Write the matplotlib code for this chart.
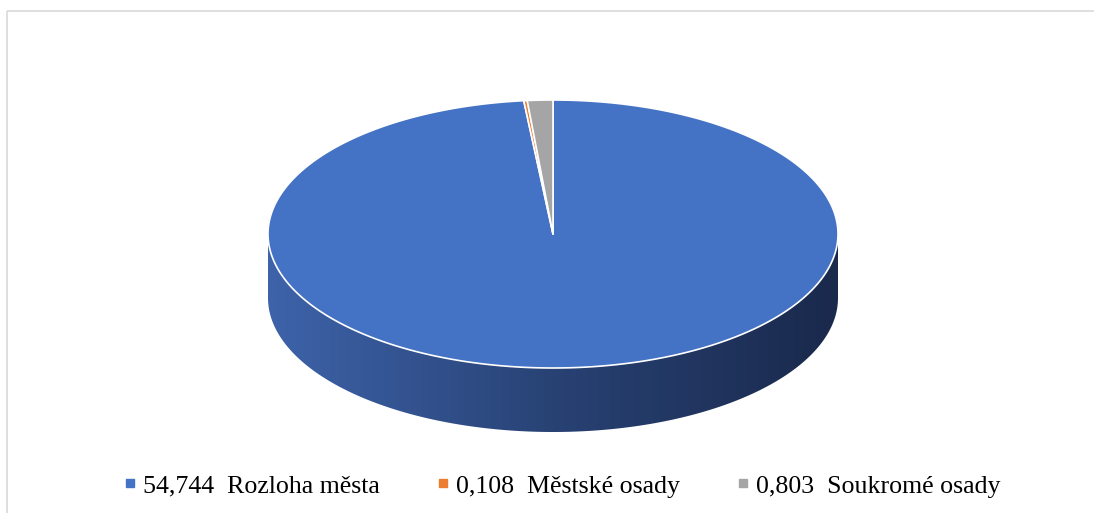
import numpy as np
import matplotlib.pyplot as plt
from matplotlib.patches import Polygon, Rectangle
from matplotlib.lines import Line2D
from matplotlib.colors import LinearSegmentedColormap

# data
labels = ['Rozloha města', 'Městské osady', 'Soukromé osady']
values = [54.744, 0.108, 0.803]
value_text = ['54,744', '0,108', '0,803']
colors = ['#4472C4', '#ED7D31', '#A5A5A5']

# pie geometry in pixels (y downwards)
cx, cy = 553, 234
rx, ry = 285, 134
depth = 64

fig = plt.figure(figsize=(10.94, 5.13), dpi=100)
ax = fig.add_axes([0, 0, 1, 1])
ax.set_xlim(0, 1094)
ax.set_ylim(513, 0)
ax.axis('off')

# chart border
ax.add_patch(Rectangle((7, 11), 1100, 520, fill=False, ec='#d9d9d9', lw=1.2))


def pt(t, dy=0):
    return cx + rx * np.sin(t), cy - ry * np.cos(t) + dy


# side of the cylinder (front half)
t = np.linspace(np.pi / 2, 3 * np.pi / 2, 300)
xs, ys = pt(t)
xb, yb = pt(t[::-1], depth)
side = Polygon(np.column_stack([np.r_[xs, xb], np.r_[ys, yb]]), closed=True,
               fc='none', ec='none')
ax.add_patch(side)
cmap = LinearSegmentedColormap.from_list(
    'side', [(0, (62/255, 99/255, 170/255)), (0.5, (40/255, 66/255, 116/255)),
             (1, (26/255, 41/255, 76/255))])
grad = np.linspace(0, 1, 256).reshape(1, -1)
im = ax.imshow(grad, cmap=cmap, aspect='auto',
               extent=[cx - rx, cx + rx, cy + ry + depth + 2, cy - 2], zorder=1)
im.set_clip_path(side)
ax.set_xlim(0, 1094)
ax.set_ylim(513, 0)

# top wedges, clockwise from 12 o'clock
total = sum(values)
start = 0.0
for v, c in zip(values, colors):
    end = start + 2 * np.pi * v / total
    tt = np.linspace(start, end, max(3, int(400 * v / total)))
    px, py = pt(tt)
    poly = Polygon(np.column_stack([np.r_[cx, px], np.r_[cy, py]]), closed=True,
                   fc=c, ec='white', lw=1.2, joinstyle='round', zorder=2)
    ax.add_patch(poly)
    start = end

# legend
handles = [Line2D([], [], marker='s', ls='none', color=c, markersize=6)
           for c in colors]
texts = [f'{a}  {b}' for a, b in zip(value_text, labels)]
ax.legend(handles, texts, loc='center', bbox_to_anchor=(562 / 1094, 1 - 486 / 513),
          ncol=3, frameon=False, handlelength=0.5, handletextpad=0.25,
          columnspacing=2.2,
          prop={'family': 'Liberation Serif', 'size': 18.6})

fig.savefig('out.png', dpi=100)
